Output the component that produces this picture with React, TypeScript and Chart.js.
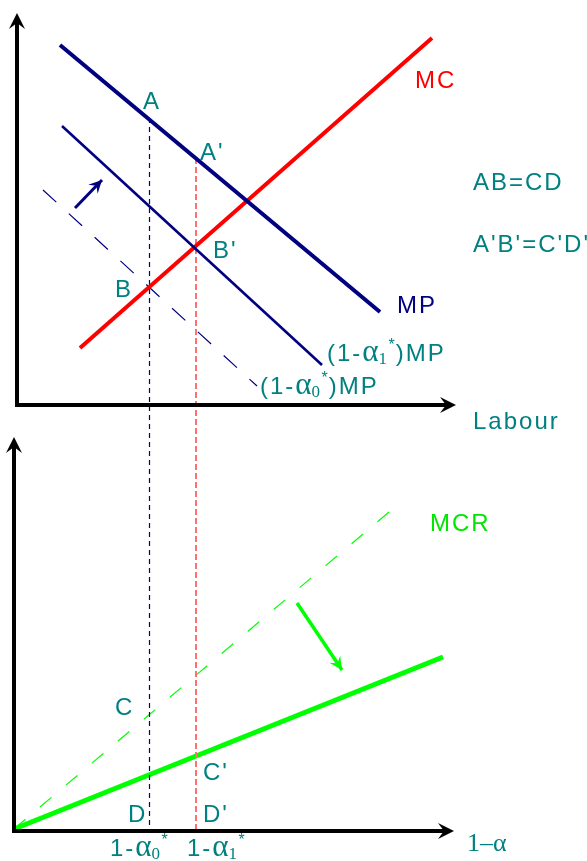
import React, { useEffect, useRef } from "react";
import { Chart, registerables } from "chart.js";
Chart.register(...registerables);

// ---- colours & fonts ----
const NAVY = "#000080";
const TEAL = "#008080";
const RED = "#ff0000";
const LIGHT_RED = "#ff7070";
const GREEN = "#00ff00";
const GREEN_TEXT = "#00e600";
const SANS = "'Liberation Sans', Arial, sans-serif";
const SERIF = "'Liberation Serif', 'Times New Roman', serif";

// ---- diagram data (diagram units: x to the right, y downwards) ----
const topYAxis = [{ x: 17, y: 405 }, { x: 17, y: 13 }];
const topXAxis = [{ x: 17, y: 405 }, { x: 456, y: 405 }];
const botYAxis = [{ x: 14, y: 831 }, { x: 14, y: 437 }];
const botXAxis = [{ x: 14, y: 831 }, { x: 454, y: 831 }];

const mpCurve = [{ x: 60, y: 45 }, { x: 380, y: 312 }];
const mpAlpha1Curve = [{ x: 62, y: 126 }, { x: 322, y: 365 }];
const mpAlpha0Curve = [{ x: 43, y: 190 }, { x: 257, y: 386 }];
const mcCurve = [{ x: 80, y: 348 }, { x: 432, y: 38 }];

const alpha0Guide = [{ x: 149.5, y: 118 }, { x: 149.5, y: 829 }];
const alpha1Guide = [{ x: 196, y: 158 }, { x: 196, y: 829 }];

const mcrNewCurve = [{ x: 14, y: 829 }, { x: 443, y: 657 }];
const mcrOldCurve = [{ x: 14, y: 829 }, { x: 395, y: 507 }];

const mpShiftArrow = [{ x: 75, y: 208 }, { x: 102, y: 180 }];
const mcrShiftArrow = [{ x: 297, y: 603 }, { x: 342, y: 670 }];

// ---- text ----
const pointNames = ["A", "A'", "B", "B'", "C", "C'", "D", "D'"];
const curveNames = ["MC", "MP", "MCR"];
const equalities = ["AB=CD", "A'B'=C'D'"];
const axisNames = ["Labour", "1\u2013\u03b1"];

type Seg = { t: string; font: string; dx?: number; dy?: number; adv?: boolean; ls?: string };
type Label = { x: number; y: number; color: string; segs: Seg[] };

const F = `24px ${SANS}`;
const ALPHA = `31px ${SERIF}`;
const SUB = `17px ${SERIF}`;
const SUP = `16px ${SANS}`;
const plain = (t: string): Seg[] => [{ t, font: F, ls: "2px" }];
const alphaSegs = (prefix: string, sub: string, suffix: string): Seg[] => [
  { t: prefix, font: F, ls: "2px" },
  { t: "\u03b1", font: ALPHA },
  { t: sub, font: SUB, dy: 3, adv: false },
  { t: "*", font: SUP, dx: 10, dy: -11 },
  ...(suffix ? [{ t: suffix, font: F, dx: 1, ls: "2px" }] : []),
];

const labels: Label[] = [
  { x: 143, y: 109, color: TEAL, segs: plain(pointNames[0]) },
  { x: 200, y: 160, color: TEAL, segs: plain(pointNames[1]) },
  { x: 115, y: 297, color: TEAL, segs: plain(pointNames[2]) },
  { x: 213, y: 258, color: TEAL, segs: plain(pointNames[3]) },
  { x: 115, y: 715, color: TEAL, segs: plain(pointNames[4]) },
  { x: 203, y: 780, color: TEAL, segs: plain(pointNames[5]) },
  { x: 128, y: 822, color: TEAL, segs: plain(pointNames[6]) },
  { x: 203, y: 822, color: TEAL, segs: plain(pointNames[7]) },
  { x: 415, y: 88, color: RED, segs: plain(curveNames[0]) },
  { x: 397, y: 313, color: NAVY, segs: plain(curveNames[1]) },
  { x: 430, y: 531, color: GREEN_TEXT, segs: plain(curveNames[2]) },
  { x: 473, y: 190, color: TEAL, segs: plain(equalities[0]) },
  { x: 473, y: 252, color: TEAL, segs: plain(equalities[1]) },
  { x: 473, y: 429, color: TEAL, segs: plain(axisNames[0]) },
  { x: 467, y: 851, color: TEAL, segs: [{ t: axisNames[1], font: `26px ${SERIF}` }] },
  { x: 327, y: 361, color: TEAL, segs: alphaSegs("(1-", "1", ")MP") },
  { x: 260, y: 394, color: TEAL, segs: alphaSegs("(1-", "0", ")MP") },
  { x: 110, y: 856, color: TEAL, segs: alphaSegs("1-", "0", "") },
  { x: 187, y: 856, color: TEAL, segs: alphaSegs("1-", "1", "") },
];

const axes = [topYAxis, topXAxis, botYAxis, botXAxis];
const shiftArrows = [
  { pts: mpShiftArrow, color: NAVY },
  { pts: mcrShiftArrow, color: GREEN },
];

const diagramPlugin = {
  id: "diagram",
  afterDatasetsDraw(chart: any) {
    const ctx: CanvasRenderingContext2D = chart.ctx;
    const xs = chart.scales.x;
    const ys = chart.scales.y;
    const P = (p: { x: number; y: number }) => ({ x: xs.getPixelForValue(p.x), y: ys.getPixelForValue(p.y) });
    ctx.save();
    // axes with stealth arrowheads
    for (const a of axes) {
      const o = P(a[0]);
      const t = P(a[1]);
      const len = Math.hypot(t.x - o.x, t.y - o.y);
      const ux = (t.x - o.x) / len;
      const uy = (t.y - o.y) / len;
      const nx = -uy;
      const ny = ux;
      ctx.strokeStyle = "#000";
      ctx.lineWidth = 4;
      ctx.lineCap = "butt";
      ctx.beginPath();
      ctx.moveTo(o.x - ux * 2, o.y - uy * 2);
      ctx.lineTo(t.x - ux * 9, t.y - uy * 9);
      ctx.stroke();
      ctx.fillStyle = "#000";
      ctx.beginPath();
      ctx.moveTo(t.x, t.y);
      ctx.lineTo(t.x - ux * 16 + nx * 8, t.y - uy * 16 + ny * 8);
      ctx.lineTo(t.x - ux * 10, t.y - uy * 10);
      ctx.lineTo(t.x - ux * 16 - nx * 8, t.y - uy * 16 - ny * 8);
      ctx.closePath();
      ctx.fill();
    }
    // arrowheads for shift arrows
    for (const s of shiftArrows) {
      const o = P(s.pts[0]);
      const t = P(s.pts[1]);
      const len = Math.hypot(t.x - o.x, t.y - o.y);
      const ux = (t.x - o.x) / len;
      const uy = (t.y - o.y) / len;
      const nx = -uy;
      const ny = ux;
      ctx.fillStyle = s.color;
      ctx.beginPath();
      ctx.moveTo(t.x, t.y);
      ctx.lineTo(t.x - ux * 13 + nx * 6.5, t.y - uy * 13 + ny * 6.5);
      ctx.lineTo(t.x - ux * 8, t.y - uy * 8);
      ctx.lineTo(t.x - ux * 13 - nx * 6.5, t.y - uy * 13 - ny * 6.5);
      ctx.closePath();
      ctx.fill();
    }
    // labels
    ctx.textAlign = "left";
    ctx.textBaseline = "alphabetic";
    for (const l of labels) {
      const p = P(l);
      let cx = p.x;
      ctx.fillStyle = l.color;
      for (const s of l.segs) {
        ctx.font = s.font;
        (ctx as any).letterSpacing = s.ls ?? "0px";
        const dx = s.dx ?? 0;
        ctx.fillText(s.t, cx + dx, p.y + (s.dy ?? 0));
        if (s.adv !== false) cx += dx + ctx.measureText(s.t).width;
      }
    }
    (ctx as any).letterSpacing = "0px";
    ctx.restore();
  },
};

const lineDs = (data: any[], color: string, width: number, dash: number[] = []) => ({
  data,
  borderColor: color,
  backgroundColor: color,
  borderWidth: width,
  borderDash: dash,
  borderCapStyle: "butt" as const,
  pointRadius: 0,
  showLine: true,
  fill: false,
  tension: 0,
  clip: false as any,
});

export default function App() {
  const ref = useRef<HTMLCanvasElement>(null);
  useEffect(() => {
    document.body.style.margin = "0";
    const canvas = ref.current!;
    const chart = new Chart(canvas, {
      type: "scatter",
      data: {
        datasets: [
          lineDs(mpCurve, NAVY, 4),
          lineDs(mpAlpha1Curve, NAVY, 2.6),
          lineDs(mcCurve, RED, 4),
          lineDs(mpAlpha0Curve, NAVY, 1.2, [18, 17]),
          lineDs(alpha0Guide, NAVY, 1.2, [5, 4]),
          lineDs(alpha1Guide, LIGHT_RED, 2, [6, 3]),
          lineDs(mcrNewCurve, GREEN, 5),
          lineDs(mcrOldCurve, GREEN, 1.2, [15, 19]),
          lineDs(mpShiftArrow.slice(), NAVY, 3),
          lineDs(mcrShiftArrow.slice(), GREEN, 3.5),
        ] as any,
      },
      options: {
        animation: false,
        responsive: false,
        maintainAspectRatio: false,
        events: [],
        layout: { padding: 0 },
        plugins: { legend: { display: false }, tooltip: { enabled: false } },
        scales: {
          x: { type: "linear", min: 0, max: 587, display: false },
          y: { type: "linear", min: 0, max: 861, reverse: true, display: false },
        },
      },
      plugins: [diagramPlugin],
    });
    return () => chart.destroy();
  }, []);
  return <canvas ref={ref} width={587} height={861} style={{ display: "block" }} />;
}
